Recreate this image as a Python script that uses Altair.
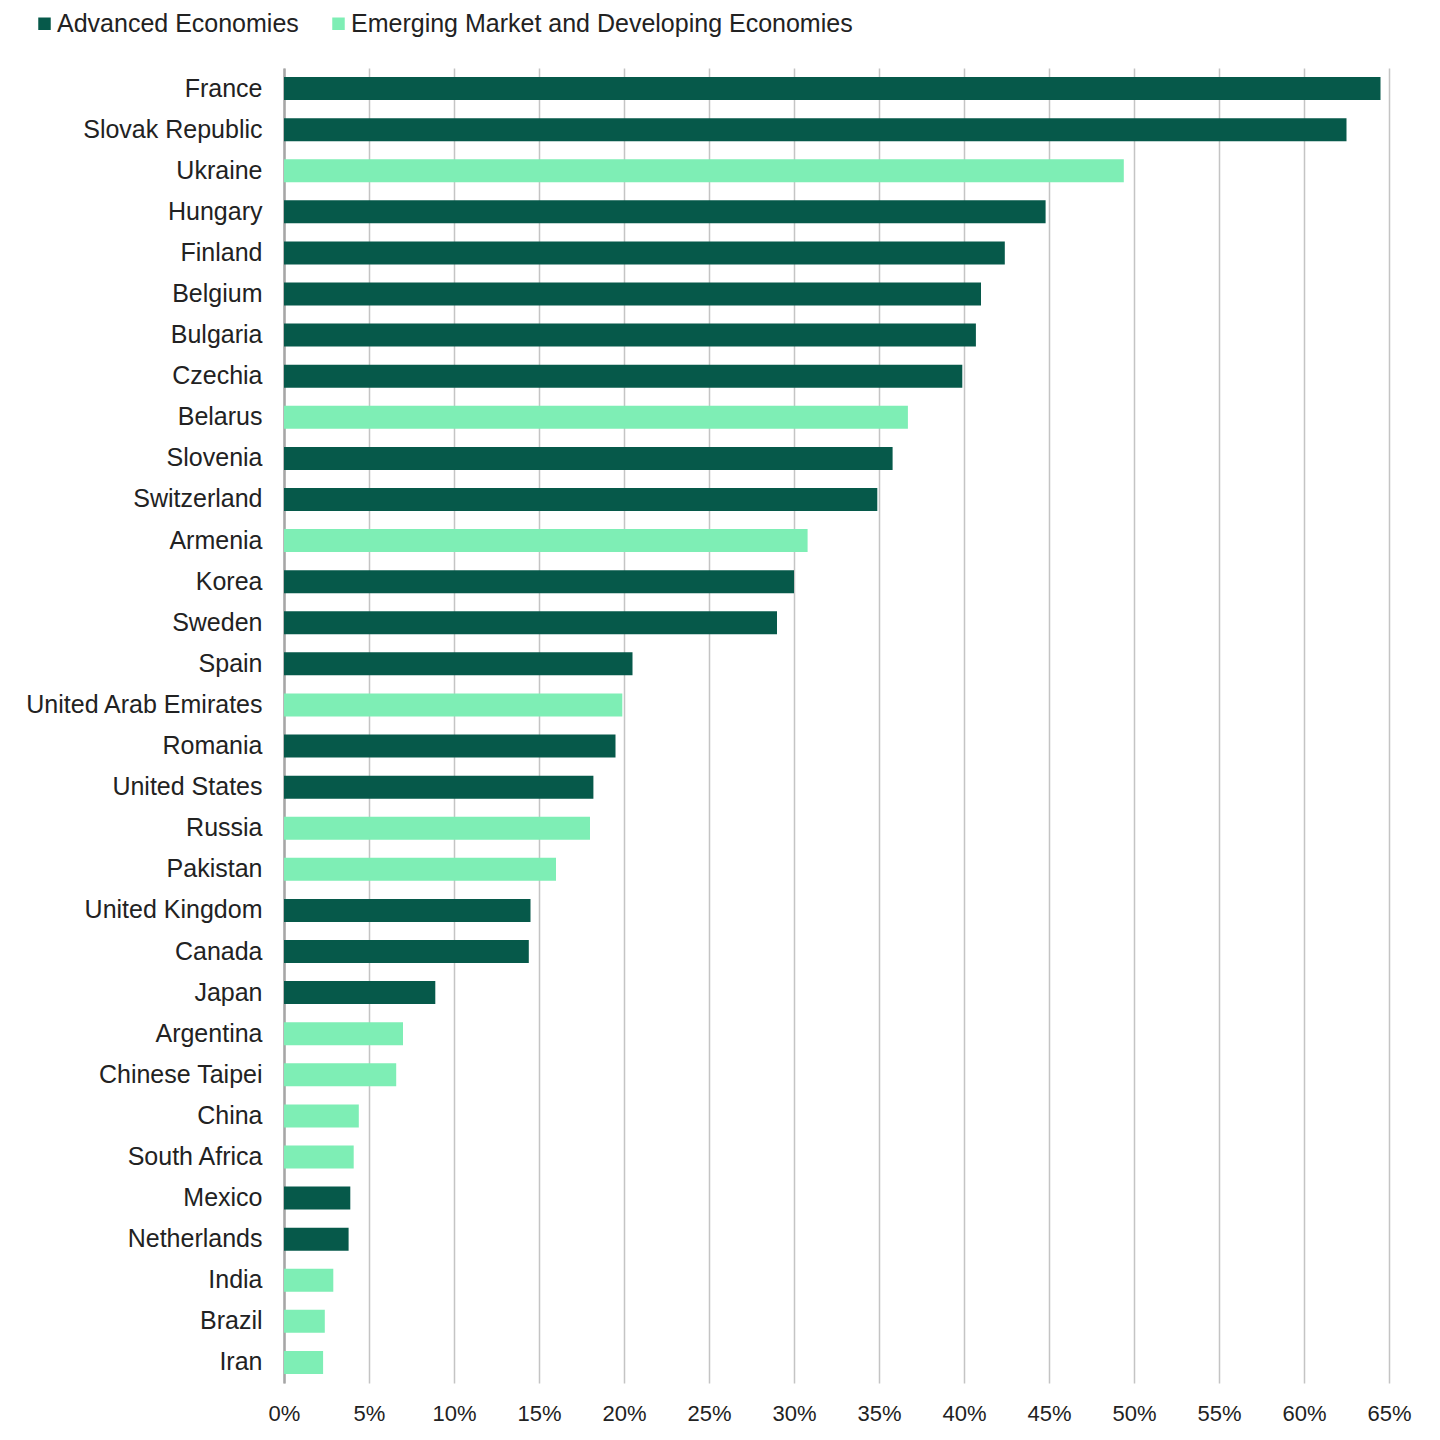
import altair as alt
import pandas as pd

countries = ["France", "Slovak Republic", "Ukraine", "Hungary", "Finland", "Belgium",
             "Bulgaria", "Czechia", "Belarus", "Slovenia", "Switzerland", "Armenia",
             "Korea", "Sweden", "Spain", "United Arab Emirates", "Romania",
             "United States", "Russia", "Pakistan", "United Kingdom", "Canada",
             "Japan", "Argentina", "Chinese Taipei", "China", "South Africa",
             "Mexico", "Netherlands", "India", "Brazil", "Iran"]
values = [64.5, 62.5, 49.4, 44.8, 42.4, 41.0,
          40.7, 39.9, 36.7, 35.8, 34.9, 30.8,
          30.0, 29.0, 20.5, 19.9, 19.5,
          18.2, 18.0, 16.0, 14.5, 14.4,
          8.9, 7.0, 6.6, 4.4, 4.1,
          3.9, 3.8, 2.9, 2.4, 2.3]
AE = "Advanced Economies"
EM = "Emerging Market and Developing Economies"
groups = [AE, AE, EM, AE, AE, AE,
          AE, AE, EM, AE, AE, EM,
          AE, AE, AE, EM, AE,
          AE, EM, EM, AE, AE,
          AE, EM, EM, EM, EM,
          AE, AE, EM, EM, EM]
x_ticks = list(range(0, 66, 5))

df = pd.DataFrame({"country": countries, "value": values, "group": groups})

font = "Liberation Sans"

chart = alt.Chart(df).mark_bar().encode(
    y=alt.Y("country:N", sort=countries,
            scale=alt.Scale(paddingInner=0.44, paddingOuter=0.22),
            axis=alt.Axis(title=None, labelFontSize=25, labelFont=font,
                          labelColor="#222222", labelPadding=22, ticks=False,
                          labelLimit=0,
                          domainColor="#a6a6a6", domainWidth=2.5, grid=False)),
    x=alt.X("value:Q", scale=alt.Scale(domain=[0, 65], nice=False),
            axis=alt.Axis(title=None, values=x_ticks, labelExpr="datum.value + '%'",
                          labelFontSize=22, labelFont=font, labelColor="#222222",
                          labelPadding=20, ticks=False, domain=False, labelFlush=False,
                          grid=True, gridColor="#c4c4c4", gridWidth=1.5)),
    color=alt.Color("group:N",
                    scale=alt.Scale(domain=[AE, EM], range=["#06594A", "#7EEEB5"]),
                    legend=alt.Legend(title=None, orient="none", direction="horizontal",
                                      legendX=-252, legendY=-57,
                                      symbolType="square", symbolSize=156,
                                      symbolStrokeWidth=0, symbolOffset=0,
                                      labelFontSize=25, labelFont=font, labelLimit=0,
                                      labelColor="#222222", labelOffset=0,
                                      columnPadding=27)),
).properties(
    width=1105, height=1315,
    background="white",
    autosize=alt.AutoSizeParams(type="none"),
    padding={"left": 284, "top": 68, "right": 51, "bottom": 57},
).configure_view(strokeWidth=0, stroke=None)

chart.save("out.html", embed_options={"renderer": "svg", "actions": False})
